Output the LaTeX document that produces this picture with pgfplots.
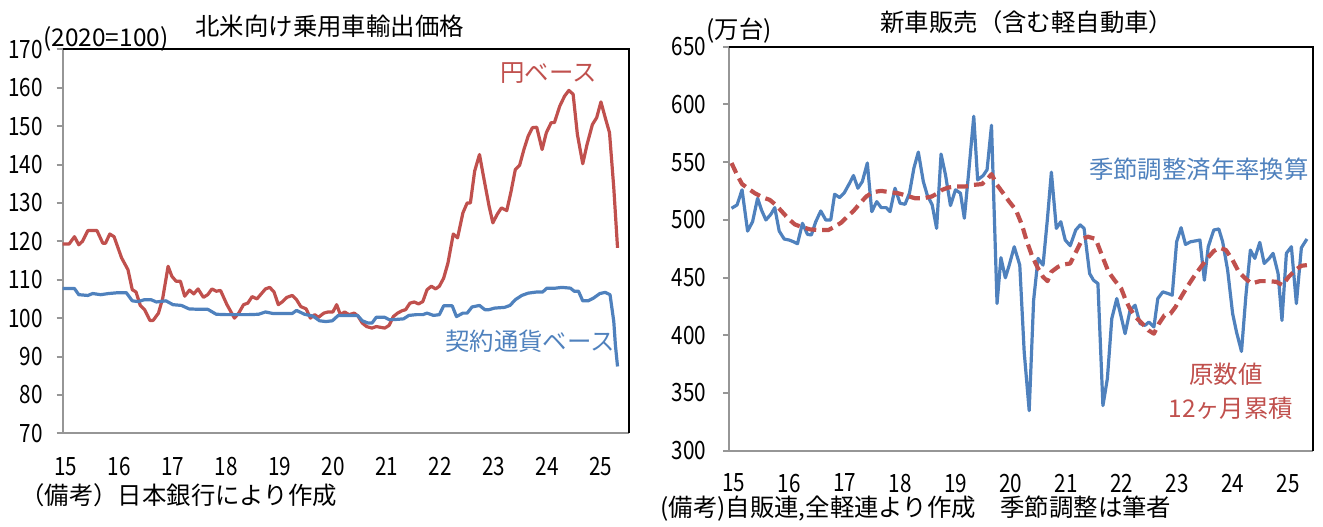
\documentclass[border=0pt]{standalone}
\usepackage{pgfplots}
\pgfplotsset{compat=1.18}
\usepackage{fontspec}
\setmainfont{Noto Sans CJK JP}
\definecolor{cblue}{RGB}{79,129,189}
\definecolor{cred}{RGB}{192,80,77}
\definecolor{axgray}{RGB}{150,150,150}
\newcommand{\tk}[1]{\scalebox{0.82}[1]{#1}}
\begin{document}
\begin{tikzpicture}
\path[use as bounding box] (0pt,0pt) rectangle (661.5pt,263pt);
\pgfplotsset{
  myax/.style={
    scale only axis,
    anchor=south west,
    axis x line*=bottom,
    axis y line*=left,
    axis line style={axgray, line width=1pt},
    ytick pos=left,
    tick align=outside,
    major tick length=3pt,
    ytick style={axgray, line width=1pt},
    xtick style={draw=none},
    tick label style={font=\fontsize{12.6}{14}\selectfont, text=black},
    /pgf/number format/assume math mode=true,
    yticklabel={\tk{\pgfmathprintnumber{\tick}}},
    xtick={15,16,...,25},
    xticklabels={\tk{15},\tk{16},\tk{17},\tk{18},\tk{19},\tk{20},\tk{21},\tk{22},\tk{23},\tk{24},\tk{25}},
    clip=false,
  }
}
% ---------------- left chart ----------------
\begin{axis}[myax,
  at={(31.35pt,46.35pt)}, width=283.3pt, height=192pt,
  xmin=14.94, xmax=25.53, ymin=70, ymax=170,
  ytick={70,80,...,170},
  yticklabel style={xshift=-3.5pt},
  xticklabel style={yshift=-5.5pt},
]
\draw[black, line width=0.9pt] (rel axis cs:0,1) -- (rel axis cs:1,1) -- (rel axis cs:1,0);
\addplot[cred, line width=1.6pt, line join=round] coordinates {
(14.94,119.3)(15.06,119.3)(15.16,121.2)(15.24,119.1)(15.31,120.0)(15.41,122.8)(15.58,122.8)(15.69,119.5)(15.74,119.5)(15.82,121.9)(15.90,121.2)
(16.04,115.7)(16.16,112.6)(16.24,107.4)(16.31,106.8)(16.39,103.3)(16.47,102.2)(16.57,99.4)(16.63,99.4)(16.73,101.3)(16.81,105.2)(16.91,113.5)(16.98,110.9)
(17.06,109.6)(17.14,109.6)(17.22,105.7)(17.31,107.3)(17.39,106.3)(17.47,107.6)(17.57,105.4)(17.65,106.1)(17.73,107.6)(17.81,107.0)(17.89,107.2)
(18.01,103.5)(18.15,100.0)(18.23,101.3)(18.32,103.5)(18.40,103.9)(18.48,105.6)(18.57,105.0)(18.65,106.3)(18.73,107.6)(18.81,108.0)(18.89,106.8)(18.97,103.5)
(19.05,104.3)(19.13,105.4)(19.23,105.9)(19.31,104.8)(19.39,103.0)(19.49,102.4)(19.57,100.0)(19.65,100.9)(19.72,100.2)(19.82,101.3)(19.90,101.6)(19.99,101.6)
(20.06,103.5)(20.13,100.9)(20.21,101.6)(20.29,100.9)(20.39,101.3)(20.46,100.5)(20.54,98.7)(20.62,97.8)(20.72,97.4)(20.80,97.8)(20.88,97.6)(20.96,97.4)
(21.04,98.1)(21.12,100.4)(21.20,101.3)(21.28,101.9)(21.35,102.2)(21.43,103.9)(21.51,104.2)(21.59,103.7)(21.67,104.3)(21.75,107.4)(21.83,108.3)(21.91,107.6)(21.98,108.3)
(22.06,110.4)(22.14,114.3)(22.24,121.9)(22.32,120.9)(22.42,127.4)(22.50,130.0)(22.56,130.0)(22.64,138.3)(22.73,142.6)(22.81,136.5)(22.91,129.1)(22.98,124.8)
(23.06,127.0)(23.14,128.7)(23.24,128.0)(23.32,133.0)(23.40,138.7)(23.48,139.8)(23.56,143.9)(23.64,147.4)(23.72,149.6)(23.80,149.7)(23.90,143.9)(23.98,148.3)
(24.07,150.9)(24.13,150.9)(24.23,155.2)(24.32,157.8)(24.40,159.3)(24.48,158.3)(24.56,147.8)(24.66,140.2)(24.74,145.2)(24.84,150.4)(24.92,152.2)
(25.00,156.3)(25.08,152.2)(25.16,148.3)(25.24,133.9)(25.31,118.3)
};
\addplot[cblue, line width=1.6pt, line join=round] coordinates {
(14.94,107.7)(15.16,107.7)(15.24,106.1)(15.41,105.9)(15.50,106.4)(15.65,106.1)(15.80,106.4)(15.96,106.6)(16.13,106.6)(16.24,104.5)(16.35,104.3)(16.47,104.8)
(16.59,104.8)(16.69,104.2)(16.87,104.5)(17.00,103.5)(17.16,103.3)(17.30,102.4)(17.46,102.3)(17.65,102.3)(17.81,101.0)(18.01,100.9)(18.17,100.9)(18.40,100.9)
(18.60,101.0)(18.73,101.6)(18.87,101.2)(19.03,101.2)(19.23,101.2)(19.31,102.0)(19.46,101.0)(19.62,100.5)(19.74,99.3)(19.86,99.1)(19.98,99.3)(20.09,100.7)
(20.29,100.7)(20.45,100.7)(20.54,99.3)(20.65,98.7)(20.72,98.7)(20.80,100.2)(20.96,100.2)(21.04,99.6)(21.12,99.6)(21.31,99.8)(21.41,100.7)(21.55,100.9)
(21.67,100.9)(21.75,101.3)(21.87,100.7)(21.98,100.9)(22.06,103.2)(22.22,103.2)(22.30,100.4)(22.42,101.3)(22.50,101.3)(22.59,102.9)(22.73,103.3)(22.83,102.2)
(22.91,102.2)(23.01,102.6)(23.20,102.8)(23.30,103.3)(23.40,104.8)(23.52,105.9)(23.64,106.5)(23.80,106.8)(23.91,106.8)(23.99,107.8)(24.15,107.8)(24.27,108.0)
(24.43,107.8)(24.50,107.0)(24.58,107.0)(24.66,104.5)(24.76,104.5)(24.86,105.2)(24.98,106.4)(25.08,106.7)(25.17,106.1)(25.24,99.1)(25.27,93.0)(25.31,87.4)
};
\end{axis}
% ---------------- right chart ----------------
\begin{axis}[myax,
  at={(364.65pt,37.65pt)}, width=291.85pt, height=202pt,
  xmin=14.92, xmax=25.45, ymin=300, ymax=650,
  ytick={300,350,...,650},
  yticklabel style={xshift=-5pt},
  xticklabel style={yshift=-5pt},
]
\draw[black, line width=0.9pt] (rel axis cs:0,1) -- (rel axis cs:1,1) -- (rel axis cs:1,0);
\addplot[cblue, line width=1.6pt, line join=round] coordinates {
(14.96,510.0)(15.06,512.9)(15.15,526.0)(15.25,490.3)(15.34,498.4)(15.43,518.7)(15.50,508.6)(15.58,499.9)(15.67,504.8)(15.74,510.6)(15.82,490.3)(15.91,483.4)
(16.00,482.5)(16.08,481.0)(16.15,479.3)(16.24,497.0)(16.33,487.4)(16.40,486.9)(16.48,498.4)(16.57,507.7)(16.66,499.9)(16.75,499.9)(16.82,522.2)(16.91,519.3)
(16.99,523.1)(17.09,531.8)(17.16,538.4)(17.24,527.4)(17.32,533.2)(17.41,549.2)(17.49,507.1)(17.58,515.8)(17.66,510.6)(17.75,510.6)(17.82,507.1)(17.91,527.4)
(18.00,514.4)(18.09,513.5)(18.17,523.1)(18.25,544.8)(18.33,558.7)(18.42,533.2)(18.49,521.6)(18.58,512.9)(18.66,492.6)(18.74,557.0)(18.82,539.0)(18.91,512.4)
(19.00,526.0)(19.09,523.1)(19.16,501.4)(19.24,541.9)(19.33,589.7)(19.40,534.6)(19.50,538.4)(19.57,543.4)(19.65,581.9)(19.75,427.5)(19.82,467.2)(19.90,449.8)
(19.97,460.8)(20.06,476.7)(20.16,460.8)(20.24,385.4)(20.33,334.7)(20.41,430.4)(20.49,466.6)(20.58,460.8)(20.66,501.4)(20.73,541.3)(20.82,492.6)(20.90,498.4)
(20.98,482.5)(21.07,477.6)(21.17,491.2)(21.25,495.6)(21.32,492.6)(21.42,453.5)(21.49,447.7)(21.57,444.8)(21.66,339.1)(21.74,362.3)(21.82,414.4)(21.91,431.8)
(21.99,415.9)(22.06,401.4)(22.15,421.7)(22.24,426.0)(22.33,410.1)(22.42,408.6)(22.49,411.5)(22.58,407.2)(22.65,431.8)(22.74,437.6)(22.84,436.1)(22.91,434.7)
(22.99,481.0)(23.07,493.2)(23.15,478.7)(23.24,481.0)(23.31,481.6)(23.41,482.5)(23.49,447.7)(23.56,476.7)(23.66,491.2)(23.75,492.1)(23.82,481.0)(23.91,456.4)
(24.00,418.8)(24.07,402.8)(24.16,386.0)(24.24,434.7)(24.32,473.8)(24.40,466.6)(24.49,480.5)(24.57,462.2)(24.66,466.6)(24.73,471.0)(24.82,453.5)(24.89,412.9)
(24.97,471.0)(25.06,476.7)(25.15,427.5)(25.24,475.8)(25.34,483.4)
};
\addplot[cred, line width=2.1pt, dash pattern=on 5.5pt off 3pt, line join=round] coordinates {
(14.96,549.2)(15.06,539.0)(15.15,531.0)(15.27,526.8)(15.38,523.1)(15.53,519.3)(15.65,517.3)(15.76,512.9)(15.87,507.1)(15.99,500.8)(16.10,496.1)(16.21,494.1)
(16.37,491.8)(16.52,491.2)(16.71,491.2)(16.82,494.1)(16.94,497.6)(17.05,502.8)(17.16,507.7)(17.28,514.4)(17.39,520.2)(17.51,524.0)(17.66,525.1)(17.81,524.0)
(17.96,523.1)(18.11,521.1)(18.27,518.7)(18.42,518.7)(18.57,520.2)(18.68,523.1)(18.76,526.0)(18.87,528.0)(19.02,528.9)(19.18,528.9)(19.33,530.3)(19.48,531.0)
(19.59,536.1)(19.65,539.6)(19.75,530.3)(19.86,523.1)(19.97,515.8)(20.09,508.6)(20.20,495.6)(20.28,482.5)(20.38,468.9)(20.49,457.9)(20.58,450.6)(20.66,446.9)
(20.73,455.0)(20.85,459.3)(20.96,461.4)(21.07,462.2)(21.19,473.8)(21.29,483.4)(21.39,485.4)(21.53,483.4)(21.64,469.5)(21.76,455.0)(21.87,447.7)(21.99,440.5)
(22.06,431.8)(22.14,423.7)(22.25,415.9)(22.37,410.1)(22.48,404.3)(22.58,401.4)(22.67,410.1)(22.77,417.3)(22.88,418.8)(22.97,424.6)(23.09,434.7)(23.20,443.4)
(23.31,451.5)(23.43,459.3)(23.54,466.6)(23.66,473.0)(23.77,475.8)(23.88,473.8)(24.00,465.1)(24.11,455.0)(24.23,449.2)(24.34,444.8)(24.49,446.9)(24.64,446.9)
(24.79,446.3)(24.90,443.4)(25.01,450.6)(25.13,456.4)(25.24,460.2)(25.34,460.8)
};
\end{axis}
% ---------------- texts ----------------
\begin{scope}[every node/.style={inner sep=0pt, font=\fontsize{12.2}{14}\selectfont}]
\node at (164.8pt,250pt) {北米向け乗用車輸出価格};
\node at (53pt,243.5pt) {(2020=100)};
\node[text=cred] at (274.2pt,226.5pt) {円ベース};
\node[text=cblue] at (265pt,92.3pt) {契約通貨ベース};
\node[anchor=west] at (10pt,15.5pt) {（備考）日本銀行により作成};
\node at (513.4pt,252.1pt) {新車販売（含む軽自動車）};
\node at (369.5pt,247.7pt) {(万台)};
\node[text=cblue] at (599.4pt,178.3pt) {季節調整済年率換算};
\node[text=cred] at (613pt,76pt) {原数値};
\node[text=cred] at (615.4pt,58.8pt) {12ヶ月累積};
\node[anchor=west] at (330pt,8.8pt) {(備考)自販連,全軽連より作成　季節調整は筆者};
\end{scope}
\end{tikzpicture}
\end{document}
